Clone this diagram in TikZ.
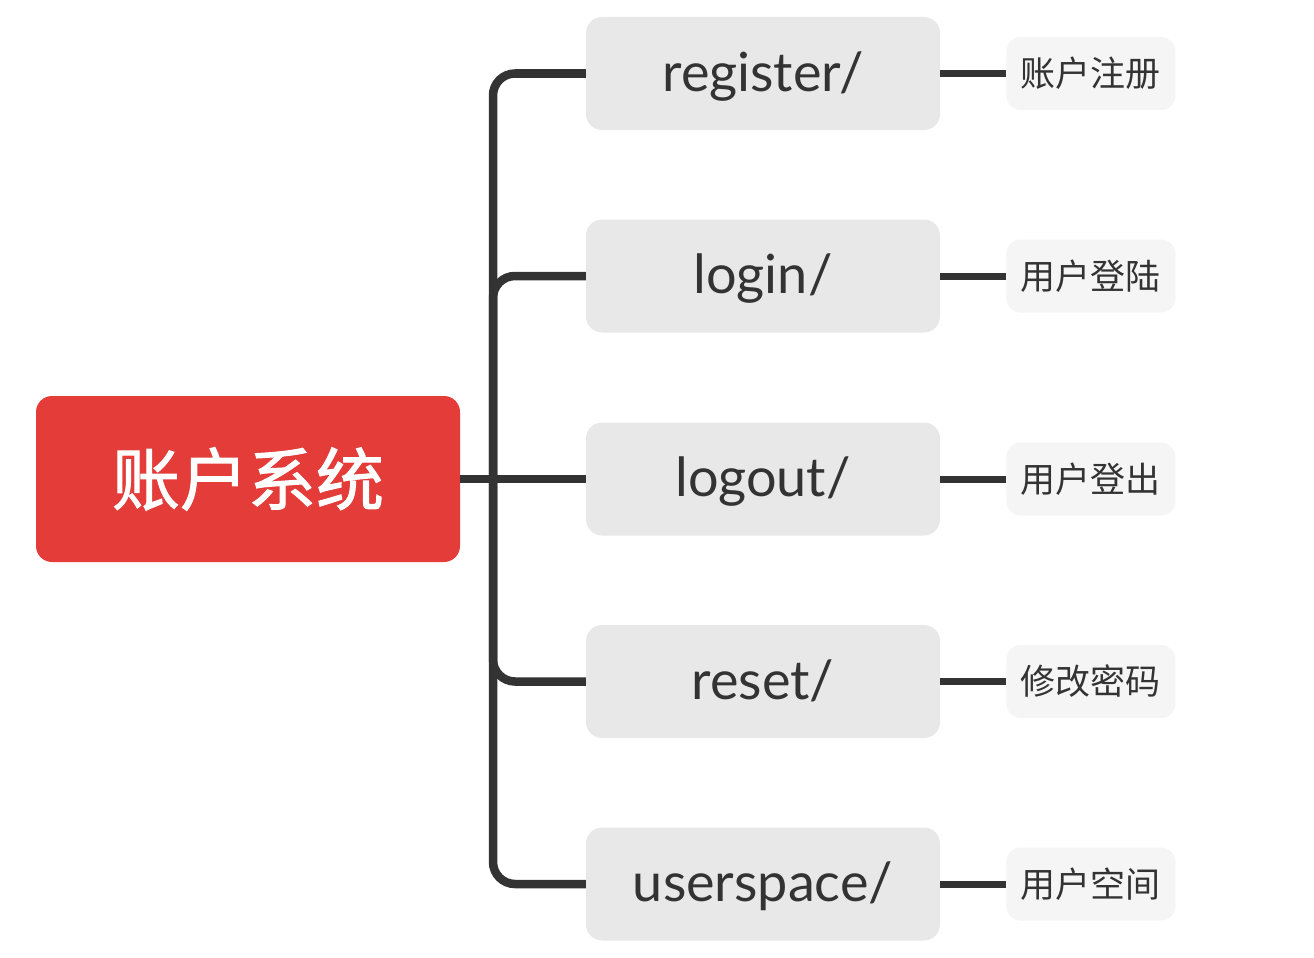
\documentclass[tikz,border=0pt]{standalone}
\usepackage{fontspec}
\setmainfont{Lato}
\newfontfamily\cjk{Noto Sans CJK SC}
\newfontfamily\cjkRoot[FakeBold=1.5]{Noto Sans CJK SC}
\usetikzlibrary{positioning}
\definecolor{rootColor}{HTML}{E33C39}
\definecolor{penColor}{HTML}{333333}
\colorlet{fill1}{black!9}
\colorlet{fill2}{black!4}
\tikzset{
  rootBox/.style={fill=rootColor,text=white,rounded corners=16pt,minimum width=424pt,minimum height=166pt,inner sep=0pt,font=\fontsize{68}{76}\selectfont\cjkRoot},
  pathBox/.style={fill=fill1,text=penColor,rounded corners=16pt,minimum width=354pt,minimum height=113pt,inner sep=0pt,text height=48pt,text depth=13pt,font=\fontsize{54}{60}\selectfont},
  noteBox/.style={fill=fill2,text=penColor,rounded corners=14pt,minimum width=169pt,minimum height=73pt,inner sep=0pt,font=\fontsize{35}{40}\selectfont\cjk},
  link/.style={draw=penColor,line width=8.5pt,rounded corners=22pt},
  noteLink/.style={draw=penColor,line width=7pt}
}

\begin{document}
\begin{tikzpicture}[x=1pt,y=-1pt]
  \useasboundingbox (0,0) rectangle (1314,958);

  \node [rootBox] (root) at (248,479) {账户系统};
  \coordinate (fork) at (493,479);

  \node [pathBox] (register) at (763,73.5) {register/};
  \node [pathBox] (login) at (763,276) {login/};
  \node [pathBox] (logout) at (763,479) {logout/};
  \node [pathBox] (reset) at (763,681.5) {reset/};
  \node [pathBox] (userspace) at (763,884) {userspace/};

  \node [noteBox,right=66pt of register] (registerNote) {账户注册};
  \node [noteBox,right=66pt of login] (loginNote) {用户登陆};
  \node [noteBox,right=66pt of logout] (logoutNote) {用户登出};
  \node [noteBox,right=66pt of reset] (resetNote) {修改密码};
  \node [noteBox,right=66pt of userspace] (userspaceNote) {用户空间};

  \draw [link] (fork) |- (register);
  \draw [link] (fork) |- (login);
  \draw [link] (root) -- (logout);
  \draw [link] (fork) |- (reset);
  \draw [link] (fork) |- (userspace);

  \draw [noteLink] (register) -- (registerNote);
  \draw [noteLink] (login) -- (loginNote);
  \draw [noteLink] (logout) -- (logoutNote);
  \draw [noteLink] (reset) -- (resetNote);
  \draw [noteLink] (userspace) -- (userspaceNote);
\end{tikzpicture}
\end{document}
